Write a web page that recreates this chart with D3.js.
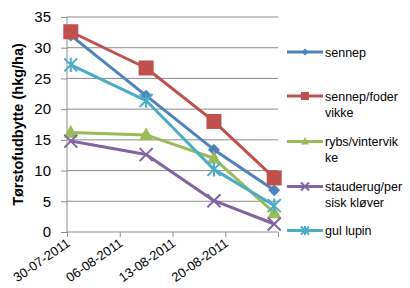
<!DOCTYPE html>
<html>
<head>
<meta charset="utf-8">
<script src="https://cdn.jsdelivr.net/npm/d3@7"></script>
<style>
  body { margin: 0; background: #fff; }
  text { font-family: "Liberation Sans", Arial, sans-serif; fill: #000; }
</style>
</head>
<body>
<div id="chart"></div>
<script>
// sample dates and yields (hkg/ha)
const dates = ['2011-07-30', '2011-08-09', '2011-08-18', '2011-08-26'];
const sennep = [32.0, 22.2, 13.4, 6.8];
const sennepFoderVikke = [32.6, 26.7, 18.0, 8.8];
const rybsVintervikke = [16.2, 15.8, 12.0, 3.1];
const staudePersisk = [14.8, 12.6, 5.1, 1.3];
const gulLupin = [27.2, 21.4, 10.2, 4.3];
const seriesNames = [['sennep'], ['sennep/foder', 'vikke'], ['rybs/vintervik', 'ke'], ['stauderug/per', 'sisk kløver'], ['gul lupin']];
const yTicks = [0, 5, 10, 15, 20, 25, 30, 35];
const xTickLabels = ['30-07-2011', '06-08-2011', '13-08-2011', '20-08-2011'];

const W = 410, H = 288;
const plotL = 67, plotR = 278, plotT = 17, plotB = 232;

const parse = d3.timeParse('%Y-%m-%d');

const series = [
  { values: sennep, color: '#4F81BD', shape: 'diamond' },
  { values: sennepFoderVikke, color: '#C0504D', shape: 'square' },
  { values: rybsVintervikke, color: '#9BBB59', shape: 'triangle' },
  { values: staudePersisk, color: '#8064A2', shape: 'x' },
  { values: gulLupin, color: '#4BACC6', shape: 'star' }
];
series.forEach((s, i) => s.name = seriesNames[i]);

const svg = d3.select('#chart').append('svg')
  .attr('width', W).attr('height', H);

const x = d3.scaleTime()
  .domain([parse('2011-07-30'), parse('2011-08-27')])
  .range([plotL, plotR]);
const y = d3.scaleLinear().domain([0, 35]).range([plotB, plotT]);

// excel puts points in the middle of the day slot
const xPos = d => x(d3.timeHour.offset(parse(d), 12));

// gridlines
svg.append('g').selectAll('line')
  .data(yTicks.filter(t => t > 0)).enter()
  .append('line')
  .attr('x1', plotL).attr('x2', plotR)
  .attr('y1', d => y(d)).attr('y2', d => y(d))
  .attr('stroke', '#8c8c8c').attr('stroke-width', 1);

// y axis
const yAxis = svg.append('g')
  .attr('transform', `translate(${plotL},0)`)
  .call(d3.axisLeft(y).tickValues(yTicks).tickSize(6).tickPadding(10));
yAxis.selectAll('line, path').attr('stroke', '#8c8c8c');
yAxis.select('.domain').attr('d', `M0,${plotT}V${plotB}`);
yAxis.selectAll('text').attr('font-size', 15).attr('font-family', 'Liberation Sans, Arial');

// x axis
const xAxis = svg.append('g')
  .attr('transform', `translate(0,${plotB})`)
  .call(d3.axisBottom(x).tickValues(d3.timeDay.range(parse('2011-07-30'), parse('2011-08-28'), 7)).tickSize(5).tickFormat(''));
xAxis.selectAll('line, path').attr('stroke', '#8c8c8c');
xAxis.select('.domain').attr('d', `M${plotL},0H${plotR}`);

svg.append('g').selectAll('text')
  .data(xTickLabels).enter()
  .append('text')
  .attr('text-anchor', 'end')
  .attr('font-size', 13)
  .attr('transform', d => {
    const p = d.split('-');
    const t = x(parse(`${p[2]}-${p[1]}-${p[0]}`));
    return `translate(${t + 4},${plotB + 13}) rotate(-35)`;
  })
  .text(d => d);

// y title
svg.append('text')
  .attr('transform', `translate(23,${(plotT + plotB) / 2}) rotate(-90)`)
  .attr('text-anchor', 'middle')
  .attr('font-size', 14.5)
  .attr('font-weight', 'bold')
  .text('Tørstofudbytte (hkg/ha)');

function marker(g, shape, color, s) {
  if (shape === 'diamond') {
    g.append('path').attr('d', `M0,${-s}L${s},0L0,${s}L${-s},0Z`).attr('fill', color);
  } else if (shape === 'square') {
    g.append('rect').attr('x', -s).attr('y', -s).attr('width', 2 * s).attr('height', 2 * s).attr('fill', color);
  } else if (shape === 'triangle') {
    g.append('path').attr('d', `M0,${-s * 1.1}L${s},${s * 0.75}L${-s},${s * 0.75}Z`).attr('fill', color);
  } else if (shape === 'x') {
    g.append('path').attr('d', `M${-s},${-s}L${s},${s}M${-s},${s}L${s},${-s}`)
      .attr('stroke', color).attr('stroke-width', 2);
  } else if (shape === 'star') {
    g.append('path').attr('d', `M${-s},${-s}L${s},${s}M${-s},${s}L${s},${-s}M0,${-s * 1.1}V${s * 1.1}`)
      .attr('stroke', color).attr('stroke-width', 2);
  }
}

const line = d3.line().x((d, i) => xPos(dates[i])).y(d => y(d));
const sizes = { diamond: 6, square: 7.5, triangle: 7, x: 6.5, star: 6.5 };

series.forEach(s => {
  const g = svg.append('g');
  g.append('path').datum(s.values)
    .attr('d', line).attr('fill', 'none')
    .attr('stroke', s.color).attr('stroke-width', 3)
    .attr('stroke-linejoin', 'round');
  s.values.forEach((v, i) => {
    const m = g.append('g').attr('transform', `translate(${xPos(dates[i])},${y(v)})`);
    marker(m, s.shape, s.color, sizes[s.shape]);
  });
});

// legend
const legendY = [52, 96, 141.5, 186.5, 230.5];
const legSizes = { diamond: 3.5, square: 4, triangle: 4, x: 4, star: 4 };
series.forEach((s, i) => {
  const g = svg.append('g').attr('transform', `translate(287,${legendY[i]})`);
  g.append('line').attr('x1', 0).attr('x2', 36)
    .attr('stroke', s.color).attr('stroke-width', 3);
  marker(g.append('g').attr('transform', 'translate(18,0)'), s.shape, s.color, legSizes[s.shape]);
  s.name.forEach((t, j) => {
    g.append('text').attr('x', 38).attr('y', j * 16 + 4.5)
      .attr('font-size', 12.5).text(t);
  });
});
</script>
</body>
</html>
